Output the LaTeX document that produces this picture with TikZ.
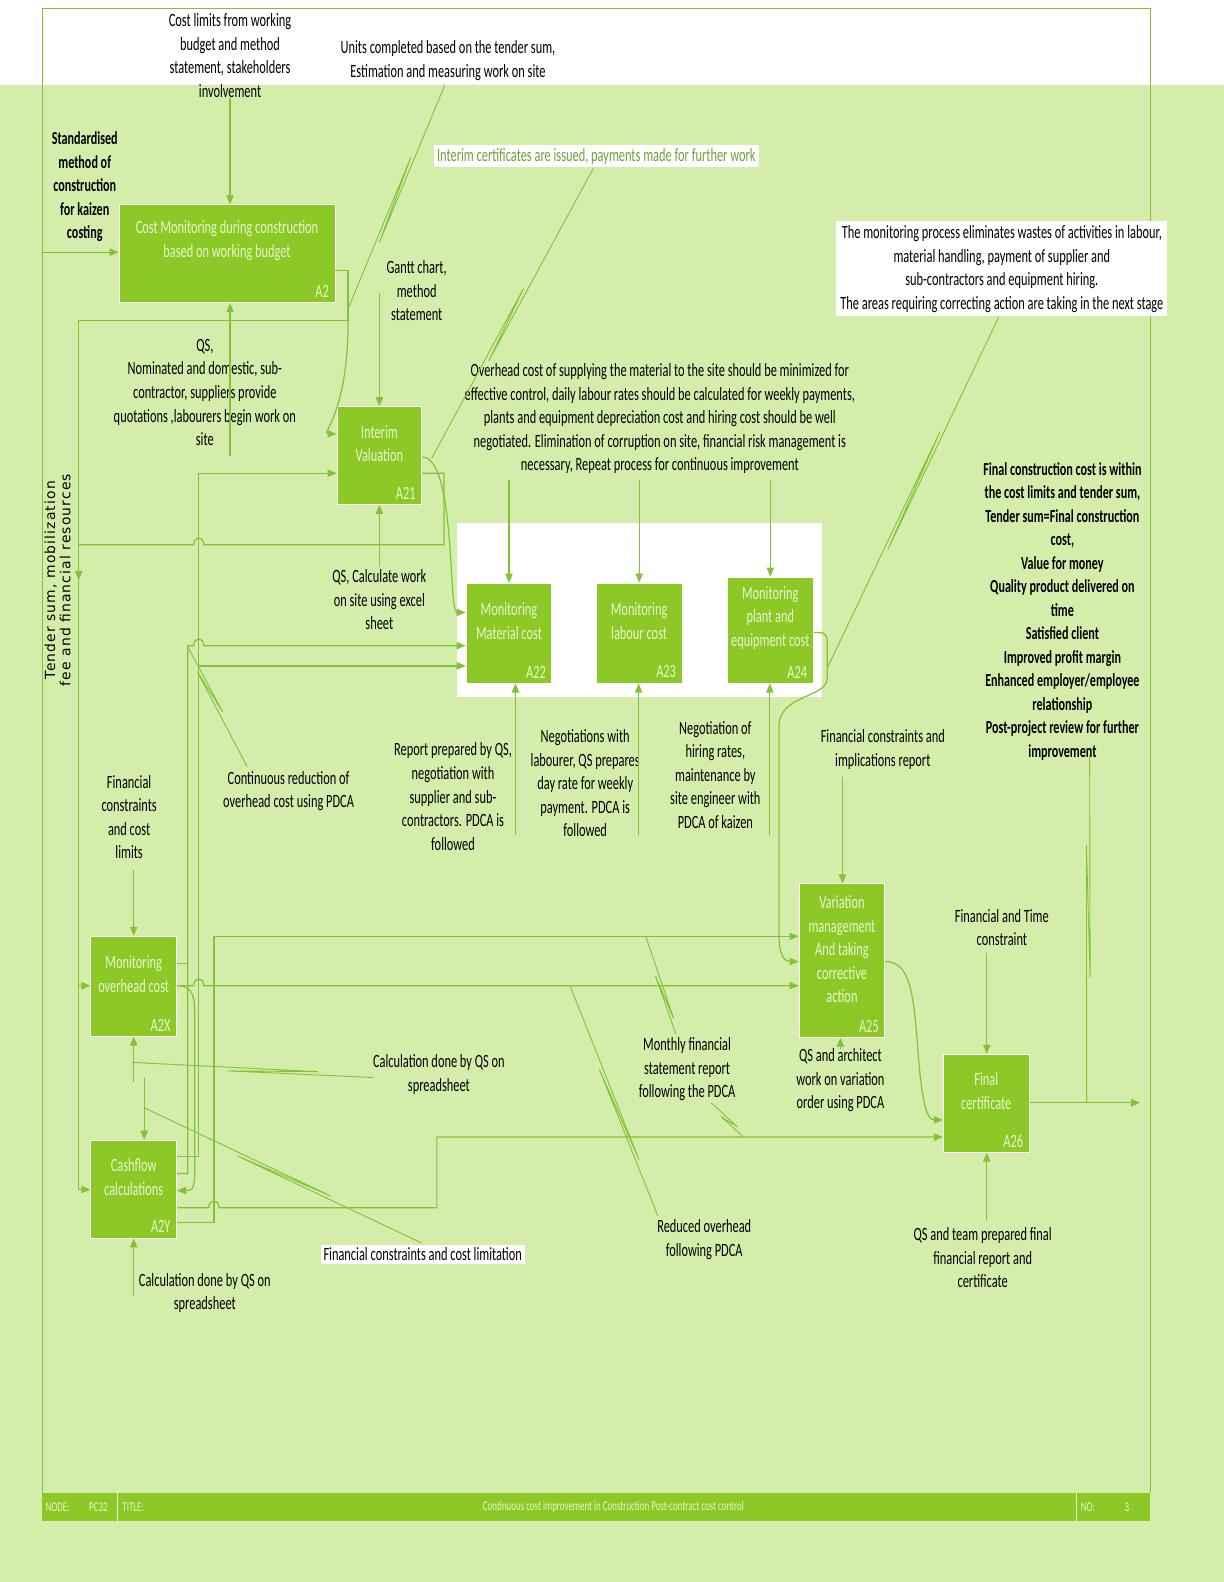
\documentclass[tikz,border=0pt]{standalone}
\usepackage{fontspec}
\setmainfont{Carlito}[FakeStretch=0.66]
\newfontfamily\tenderfont{DejaVu Sans}[LetterSpace=8]
\usetikzlibrary{arrows.meta,calc}

\definecolor{bggreen}{RGB}{213,237,171}
\definecolor{boxgreen}{RGB}{140,200,38}
\definecolor{linegreen}{RGB}{130,194,55}
\definecolor{boxtext}{RGB}{232,246,208}
\definecolor{notegreen}{RGB}{112,160,62}

\tikzset{
  box/.style={fill=boxgreen, draw=white, line width=0.4pt, inner sep=0pt},
  boxtxt/.style={align=center, text=boxtext, inner sep=0pt},
  boxid/.style={anchor=south east, text=boxtext, inner xsep=3pt, inner ysep=2.5pt},
  note/.style={align=center, inner sep=0pt},
  strong/.style={font=\fontsize{9.1}{11.65}\selectfont\bfseries},
  foot/.style={text=boxtext, font=\fontsize{6.7}{7.5}\selectfont, inner sep=0pt},
  line/.style={draw=linegreen, line width=0.6pt},
  arr/.style={line, -{Triangle[length=4.5pt,width=3.6pt]}},
  zz/.style args={#1 and #2}{line, line width=0.45pt,
    to path={-- ($(\tikztostart)!#2!(\tikztotarget)!1.2pt!90:(\tikztotarget)$)
             -- ($(\tikztostart)!#1!(\tikztotarget)!1.2pt!-90:(\tikztotarget)$)
             -- (\tikztotarget)}},
}

\begin{document}
\begin{tikzpicture}[x=0.5pt, y=-0.5pt, font=\fontsize{9.3}{11.65}\selectfont]
\useasboundingbox (0,0) rectangle (1213,1568);

% background
\fill[white] (0,0) rectangle (1213,84);
\fill[bggreen] (0,84) rectangle (1213,1568);
\fill[white] (453,518) rectangle (815,691);
\draw[linegreen, line width=0.5pt] (42,1480) -- (42,8) -- (1140,8) -- (1140,1480);

% footer
\fill[boxgreen] (42,1480) rectangle (1140,1508);
\draw[boxtext, line width=0.4pt] (116,1480) -- (116,1508) (1067,1480) -- (1067,1508);
\node[foot, anchor=west] (fnode) at (45,1494) {NODE:};
\node[foot, anchor=west] (fpc) at (88,1494) {PC32};
\node[foot, anchor=west] (ftitle) at (121,1494) {TITLE:};
\node[foot] (fname) at (608,1494) {Continuous cost improvement in Construction Post-contract cost control};
\node[foot, anchor=west] (fno) at (1071,1494) {NO:};
\node[foot] (fnum) at (1117,1494) {3};

% boxes
\node[box, minimum width=107pt, minimum height=48.5pt] (a2) at (225,251.5) {};
\node[boxtxt] (a2t) at ([yshift=6.5pt]a2.center) {Cost Monitoring during construction\\based on working budget};
\node[boxid] (a2n) at (a2.south east) {A2};

\node[box, minimum width=42pt, minimum height=48.5pt] (a21) at (376,451.5) {};
\node[boxtxt] (a21t) at ([yshift=6pt]a21.center) {Interim\\Valuation};
\node[boxid] (a21n) at (a21.south east) {A21};

\node[box, minimum width=42.5pt, minimum height=49.5pt] (a22) at (504.5,627.5) {};
\node[boxtxt] (a22t) at ([yshift=6pt]a22.center) {Monitoring\\Material cost};
\node[boxid] (a22n) at (a22.south east) {A22};

\node[box, minimum width=42.5pt, minimum height=49.5pt] (a23) at (633.5,627.5) {};
\node[boxtxt] (a23t) at ([yshift=6pt]a23.center) {Monitoring\\labour cost};
\node[boxid] (a23n) at (a23.south east) {A23};

\node[box, minimum width=42.5pt, minimum height=52.5pt] (a24) at (763.5,624.5) {};
\node[boxtxt] (a24t) at ([yshift=6pt]a24.center) {Monitoring\\plant and\\equipment cost};
\node[boxid] (a24n) at (a24.south east) {A24};

\node[box, minimum width=42.5pt, minimum height=76pt] (a25) at (834.5,952) {};
\node[boxtxt] (a25t) at ([yshift=5.5pt]a25.center) {Variation\\management\\And taking\\corrective\\action};
\node[boxid] (a25n) at (a25.south east) {A25};

\node[box, minimum width=42.5pt, minimum height=48.5pt] (a26) at (977.5,1093.5) {};
\node[boxtxt] (a26t) at ([yshift=6pt]a26.center) {Final\\certificate};
\node[boxid] (a26n) at (a26.south east) {A26};

\node[box, minimum width=42.5pt, minimum height=49.5pt] (a2x) at (132.5,977.5) {};
\node[boxtxt] (a2xt) at ([yshift=6pt]a2x.center) {Monitoring\\overhead cost};
\node[boxid] (a2xn) at (a2x.south east) {A2X};

\node[box, minimum width=42.5pt, minimum height=48.5pt] (a2y) at (132.5,1178.5) {};
\node[boxtxt] (a2yt) at ([yshift=6pt]a2y.center) {Cashflow\\calculations};
\node[boxid] (a2yn) at (a2y.south east) {A2Y};

% labels
\node[note] (lcost) at (228,55) {Cost limits from working\\budget and method\\statement, stakeholders\\involvement};
\node[note] (lunits) at (444,60) {Units completed based on the tender sum,\\Estimation and measuring work on site};
\node[note, strong] (lstd) at (84,185) {Standardised\\method of\\construction\\for kaizen\\costing};
\node[note, fill=white, text=notegreen, inner sep=1.5pt] (linterim) at (591,155) {Interim certificates are issued, payments made for further work};
\node[note, fill=white, inner sep=2pt] (lmonit) at (993,266.5) {The monitoring process eliminates wastes of activities in labour,\\material handling, payment of supplier and\\sub-contractors and equipment hiring.\\The areas requiring correcting action are taking in the next stage};
\node[note] (lgantt) at (413,288) {Gantt chart,\\method\\statement};
\node[note] (lqs) at (203,389) {QS,\\Nominated and domestic, sub-\\contractor, suppliers provide\\quotations ,labourers begin work on\\site};
\node[note] (lover) at (654,415) {Overhead cost of supplying the material to the site should be minimized for\\effective control, daily labour rates should be calculated for weekly payments,\\plants and equipment depreciation cost and hiring cost should be well\\negotiated. Elimination of corruption on site, financial risk management is\\necessary, Repeat process for continuous improvement};
\node[note] (lqscalc) at (376,594.5) {QS, Calculate work\\on site using excel\\sheet};
\node[note, rotate=90, font=\tenderfont\fontsize{6.9}{7.6}\selectfont] (ltender) at (57,575) {Tender sum, mobilization\\fee and financial resources};
\node[note] (lrep) at (449,789.5) {Report prepared by QS,\\negotiation with\\supplier and sub-\\contractors. PDCA is\\followed};
\node[note] (lneg) at (580,776.5) {Negotiations with\\labourer, QS prepares\\day rate for weekly\\payment. PDCA is\\followed};
\node[note] (lhire) at (709,768) {Negotiation of\\hiring rates,\\maintenance by\\site engineer with\\PDCA of kaizen};
\node[note] (lfinimp) at (875,743) {Financial constraints and\\implications report};
\node[note, strong] (lfinal) at (1053,606) {Final construction cost is within\\the cost limits and tender sum,\\Tender sum=Final construction\\cost,\\Value for money\\Quality product delivered on\\time\\Satisfied client\\Improved profit margin\\Enhanced employer/employee\\relationship\\Post-project review for further\\improvement};
\node[note] (lfincon) at (128,810) {Financial\\constraints\\and cost\\limits};
\node[note] (lcontred) at (286,784) {Continuous reduction of\\overhead cost using PDCA};
\node[note] (lcalc) at (435,1065) {Calculation done by QS on\\spreadsheet};
\node[note] (lmonthly) at (681,1060) {Monthly financial\\statement report\\following the PDCA};
\node[note] (lqsarch) at (833,1071) {QS and architect\\work on variation\\order using PDCA};
\node[note] (lfintime) at (993,919.5) {Financial and Time\\constraint};
\node[note] (lreduced) at (698,1228.5) {Reduced overhead\\following PDCA};
\node[note, fill=white, inner sep=1.5pt] (lfclim) at (419,1243) {Financial constraints and cost limitation};
\node[note] (lcashcalc) at (203,1281.5) {Calculation done by QS on\\spreadsheet};
\node[note] (lqsteam) at (974,1246.5) {QS and team prepared final\\financial report and\\certificate};

% free ends
\coordinate (stdin) at (43,250);
\coordinate (qsin) at (228,452);
\coordinate (busin) at (78,318);
\coordinate (ganttin) at (376,290);
\coordinate (qscalcin) at (376,562);
\coordinate (fcin) at (132.5,862);
\coordinate (ovin) at (132.5,1072);
\coordinate (cfin) at (143,1068);
\coordinate (cashin) at (132.5,1285);
\coordinate (finimpin) at (835,770);
\coordinate (archin) at (833,1040);
\coordinate (fintimein) at (978,945);
\coordinate (teamin) at (978,1210);
\coordinate (outend) at (1130,1093);

% A2
\draw[arr] (lcost.south) -- (a2.north -| lcost.south);
\draw[arr] (stdin) -- (a2.west |- stdin);
\draw[arr] (qsin) -- (a2.south -| qsin);
\draw[line] (a2.east |- 0,268) -- (345,268) -- (345,318) -- (busin) -- (78,1179);
\draw[arr] (busin) -- (78,575);
\draw[arr] (78,977) -- (a2x.west |- 0,977);
\draw[arr] (78,1179) -- (a2y.west |- 0,1179);
\draw[arr] (345,318) .. controls (345,410) and (318,430) .. (a21.west |- 0,430);

% A21
\draw[arr] (ganttin) -- (a21.north);
\draw[arr] (qscalcin) -- (a21.south);
\draw[line] (a21.east |- 0,469) -- (440,469) -- (440,540) -- (202,540) .. controls (202,531) and (192,531) .. (192,540) -- (78,540);
\draw[arr] (a21.east |- 0,453) .. controls (452,453) and (444,607) .. (a22.west |- 0,607);

% returns from A2X and A2Y
\draw[arr] (a2y.east |- 0,1146) -- (197,1146) -- (197,469) -- (a21.west |- 0,469);
\draw[arr] (197,660) -- (a22.west |- 0,660);
\draw[arr] (a2y.east |- 0,1163) -- (186,1163) -- (186,640) -- (192,640) .. controls (192,631) and (202,631) .. (202,640) -- (a22.west |- 0,640);
\draw[line] (a2x.east |- 0,955) -- (186,955);
\draw[arr] (a2x.east |- 0,977) .. controls (193,977) and (193,990) .. (193,1010) -- (193,1160) .. controls (193,1180) and (190,1180) .. (a2y.east |- 0,1180);
\draw[arr] (a2x.east |- 0,977) -- (192,977) .. controls (192,968) and (202,968) .. (202,977) -- (a25.west |- 0,977);
\draw[arr] (a2y.east |- 0,1212) -- (212,1212) -- (212,928) -- (a25.west |- 0,928);
\draw[arr] (a2y.east |- 0,1197) -- (207,1197) .. controls (207,1188) and (217,1188) .. (217,1197) -- (433,1197) -- (433,1127) -- (a26.west |- 0,1127);

% A2X, A2Y
\draw[arr] (fcin) -- (a2x.north);
\draw[arr] (ovin) -- (a2x.south);
\draw[arr] (cfin) -- (a2y.north -| cfin);
\draw[arr] (cashin) -- (a2y.south);

% A22 - A24
\draw[arr] (a22.north |- 0,476) -- (a22.north);
\draw[arr] (a23.north |- 0,476) -- (a23.north);
\draw[arr] (a24.north |- 0,476) -- (a24.north);
\draw[arr] (511,828) -- (a22.south -| 511,0);
\draw[arr] (633,828) -- (a23.south -| 633,0);
\draw[arr] (763,828) -- (a24.south -| 763,0);
\draw[arr] (a24.east |- 0,627) -- (812,627) .. controls (820,627) and (820,632) .. (820,642) -- (820,672) .. controls (820,692) and (772,688) .. (772,720) -- (772,925) .. controls (772,948) and (778,953) .. (a25.west |- 0,953);

% A25, A26
\draw[arr] (finimpin) -- (a25.north -| finimpin);
\draw[arr] (archin) -- (a25.south -| archin);
\draw[arr] (a25.east |- 0,953) .. controls (902,953) and (905,985) .. (909,1030) .. controls (913,1090) and (918,1110) .. (a26.west |- 0,1110);
\draw[arr] (fintimein) -- (a26.north -| fintimein);
\draw[arr] (teamin) -- (a26.south -| teamin);
\draw[arr] (a26.east |- 0,1093) -- (outend);

% squiggles
\draw[zz=0.33 and 0.7] (441,84) to (345,306);
\draw[zz=0.42 and 0.66] (588,167) to (428,454);
\draw[zz=0.33 and 0.66] (990,314) to (820,662);
\draw[zz=0.2 and 0.55] (186,641) to (245,760);
\draw[zz=0.4 and 0.77] (131,1053) to (370,1068);
\draw[zz=0.34 and 0.67] (143,1098) to (418,1232);
\draw[zz=0.4 and 0.85] (640,928) to (670,1025);
\draw[zz=0.35 and 0.75] (705,1093) to (737,1127);
\draw[zz=0.36 and 0.76] (565,977) to (652,1205);
\draw[zz=0.36 and 0.74] (1077,1093) to (1080,748);
\end{tikzpicture}
\end{document}
